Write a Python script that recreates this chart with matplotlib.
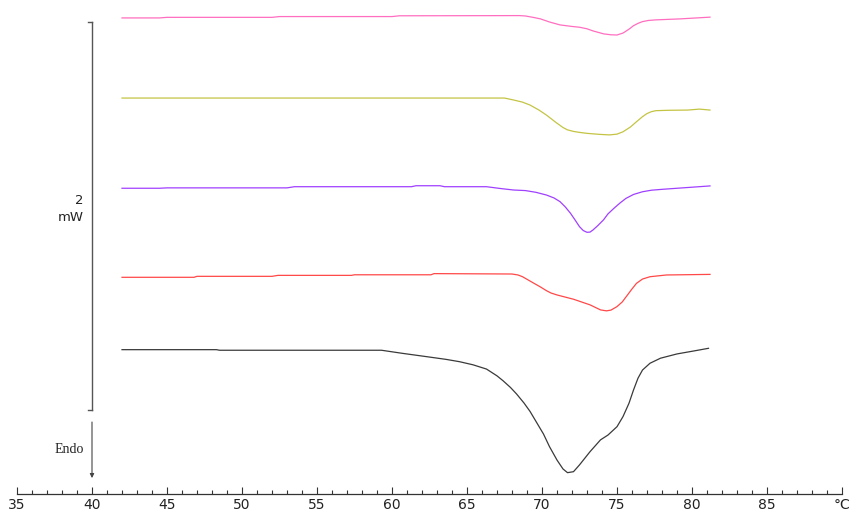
import matplotlib
matplotlib.use("Agg")
import matplotlib.pyplot as plt
import matplotlib.ticker as mticker

# DSC 曲线（热流 mW，相对各自基线；显示时按 offset 叠放）
pink_T = [42.0, 44.5, 45.0, 52.0, 52.5, 60.0, 60.5, 68.5, 68.9, 69.4, 69.9, 70.5, 71.2,
          72.0, 72.5, 73.0, 73.4, 74.1, 74.6, 75.0, 75.4, 75.8, 76.1, 76.4, 76.7,
          77.1, 77.6, 79.2, 81.2]
pink_mW = [0.0, 0.0, 0.003, 0.003, 0.007, 0.007, 0.011, 0.012, 0.010, 0.003, -0.005,
           -0.021, -0.036, -0.044, -0.048, -0.056, -0.067, -0.082, -0.087, -0.088,
           -0.078, -0.058, -0.040, -0.028, -0.019, -0.013, -0.010, -0.005, 0.004]

olive_T = [42.0, 67.5, 68.1, 68.7, 69.2, 69.8, 70.3, 70.9, 71.4, 71.7, 72.1, 72.5, 73.0,
           73.8, 74.5, 75.0, 75.4, 75.9, 76.3, 76.7, 77.0, 77.3, 77.6, 78.5, 79.7,
           80.5, 81.2]
olive_mW = [0.0, 0.0, -0.010, -0.021, -0.036, -0.062, -0.088, -0.124, -0.152, -0.164,
            -0.172, -0.177, -0.182, -0.187, -0.190, -0.186, -0.174, -0.149, -0.122,
            -0.096, -0.080, -0.070, -0.065, -0.063, -0.062, -0.057, -0.062]

purple_T = [42.0, 44.5, 45.0, 53.0, 53.5, 61.3, 61.6, 63.2, 63.5, 66.3, 67.3, 68.1, 68.9,
            69.6, 70.3, 70.8, 71.2, 71.55, 71.9, 72.2, 72.5, 72.75, 73.0, 73.2, 73.4,
            73.7, 74.1, 74.4, 74.8, 75.2, 75.6, 76.1, 76.7, 77.3, 78.1, 81.2]
purple_mW = [0.0, 0.0, 0.002, 0.002, 0.008, 0.008, 0.013, 0.013, 0.008, 0.008, -0.002,
             -0.009, -0.012, -0.021, -0.035, -0.050, -0.069, -0.096, -0.129, -0.163,
             -0.198, -0.218, -0.227, -0.226, -0.215, -0.194, -0.163, -0.132, -0.103,
             -0.076, -0.052, -0.032, -0.018, -0.010, -0.005, 0.012]

red_T = [42.0, 46.8, 47.0, 52.0, 52.4, 57.3, 57.5, 62.6, 62.8, 68.0, 68.4, 68.7, 69.4,
         69.9, 70.3, 70.6, 71.0, 72.1, 73.2, 73.9, 74.3, 74.6, 75.0, 75.35, 75.7, 76.0,
         76.3, 76.7, 77.2, 78.3, 81.2]
red_mW = [0.0, 0.0, 0.005, 0.005, 0.010, 0.010, 0.013, 0.013, 0.019, 0.017, 0.012, 0.003,
          -0.028, -0.050, -0.069, -0.081, -0.091, -0.113, -0.142, -0.168, -0.173,
          -0.169, -0.151, -0.127, -0.091, -0.060, -0.031, -0.009, 0.003, 0.012, 0.015]

black_T = [42.0, 48.3, 48.5, 59.3, 60.7, 62.3, 63.6, 64.5, 65.4, 66.3, 67.0, 67.4, 67.9,
           68.3, 68.8, 69.2, 69.6, 70.1, 70.5, 71.0, 71.4, 71.7, 72.1, 72.5, 73.2,
           73.9, 74.4, 75.0, 75.4, 75.8, 76.1, 76.4, 76.7, 77.2, 77.9, 79.0, 80.1, 81.1]
black_mW = [0.0, 0.0, -0.003, -0.003, -0.019, -0.036, -0.050, -0.062, -0.078, -0.100,
            -0.135, -0.160, -0.195, -0.228, -0.275, -0.318, -0.370, -0.435, -0.500,
            -0.569, -0.615, -0.634, -0.629, -0.594, -0.526, -0.465, -0.440, -0.397,
            -0.345, -0.276, -0.208, -0.147, -0.105, -0.070, -0.044, -0.022, -0.007,
            0.007]

curves = [
    (pink_T, pink_mW, 2.454, "#ff6ec0"),
    (olive_T, olive_mW, 2.041, "#c4c444"),
    (purple_T, purple_mW, 1.576, "#a040ff"),
    (red_T, red_mW, 1.117, "#ff4848"),
    (black_T, black_mW, 0.744, "#3a3a3a"),
]

x_ticks = [35, 40, 45, 50, 55, 60, 65, 70, 75, 80, 85, 90]
x_labels = ["35", "40", "45", "50", "55", "60", "65", "70", "75", "80", "85", "°C"]
x_minor = list(range(35, 91))

scale_mW = 2.0
scale_top = 2.433

fig = plt.figure(figsize=(8.49, 5.16), dpi=100)
ax = fig.add_axes([0, 22 / 516, 1, 494 / 516])
ax.set_xlim(35 - 17 / 15, 35 - 17 / 15 + 849 / 15)
ax.set_ylim(0, 494 / 194)

for T, mw, off, col in curves:
    ax.plot(T, [v + off for v in mw], color=col, lw=0.9)

# 标尺 2 mW
sc = "#555555"
ax.plot([40, 40], [scale_top, scale_top - scale_mW], color=sc, lw=1.0)
ax.plot([39.75, 40], [scale_top, scale_top], color=sc, lw=1.0)
ax.plot([39.75, 40], [scale_top - scale_mW, scale_top - scale_mW], color=sc, lw=1.0)
ax.text(39.45, 1.515, "2", ha="right", va="center", fontsize=9.5, color="#222222")
ax.text(39.45, 1.425, "mW", ha="right", va="center", fontsize=9.5, color="#222222")

# Endo 箭头
ax.annotate("", xy=(40, 0.082), xytext=(40, 0.371),
            arrowprops=dict(arrowstyle="-|>", color="#444444", lw=0.8,
                            mutation_scale=6, shrinkA=0, shrinkB=0))
ax.text(38.5, 0.227, "Endo", ha="center", va="center", fontsize=10,
        family="Liberation Serif", color="#222222")

for s in ["top", "right", "left"]:
    ax.spines[s].set_visible(False)
ax.spines["bottom"].set_bounds(35, 90)
ax.spines["bottom"].set_color("#333333")
ax.spines["bottom"].set_linewidth(0.9)
ax.set_yticks([])
ax.set_xticks(x_ticks)
ax.set_xticklabels(x_labels)
ax.xaxis.set_minor_locator(mticker.FixedLocator(x_minor))
ax.tick_params(axis="x", which="major", direction="in", length=5, width=0.8,
               pad=3, labelsize=10, colors="#333333", labelcolor="#222222")
ax.tick_params(axis="x", which="minor", direction="in", length=3, width=0.8,
               colors="#333333")
ax.patch.set_visible(False)

fig.savefig("out.png", dpi=100)
